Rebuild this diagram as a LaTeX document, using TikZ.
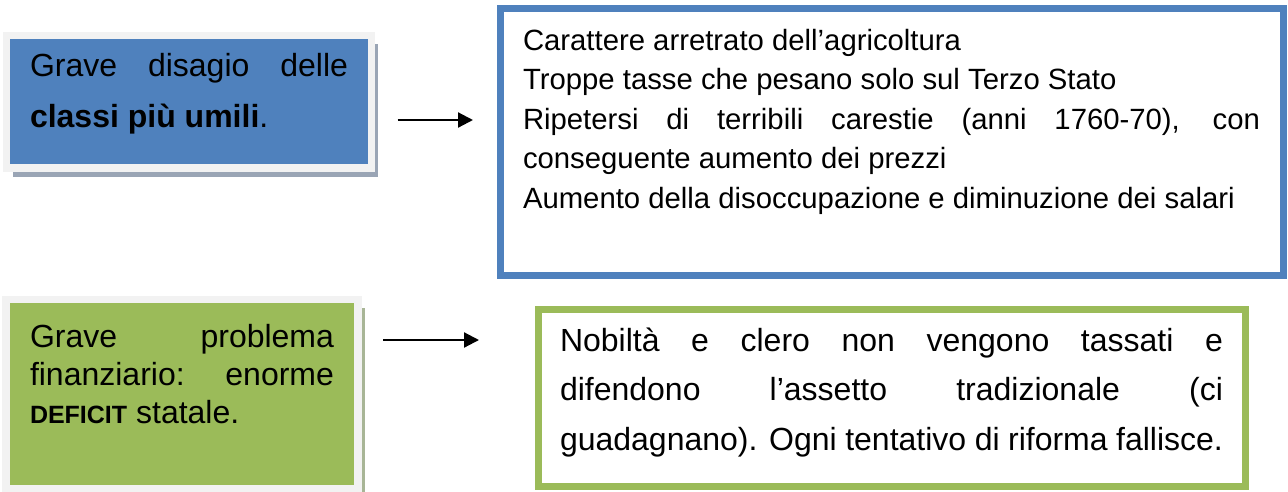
\documentclass[tikz,border=0pt]{standalone}
\usepackage{fontspec}
\setmainfont{Liberation Sans}
\usepackage{tikz}
\usetikzlibrary{arrows.meta, calc, shadows}
\definecolor{causeblue}{RGB}{79,129,189}
\definecolor{causegreen}{RGB}{155,187,89}
\definecolor{framegray}{RGB}{242,242,242}
\definecolor{shadowblue}{RGB}{154,165,181}
\definecolor{shadowgreen}{RGB}{168,181,150}
\tikzset{
    causebox/.style={rectangle, draw=framegray, line width=7.5pt, anchor=north west,
                     outer sep=0pt, inner ysep=0pt, align=justify,
                     font=\fontsize{32}{51}\selectfont},
    effectbox/.style={rectangle, fill=white, line width=7pt, anchor=north west,
                      outer sep=0pt, inner ysep=0pt, align=justify},
    arrow/.style={-{Triangle[length=15pt, width=15pt]}, line width=2.2pt, draw=black},
}
\hyphenpenalty=10000
\exhyphenpenalty=10000

\begin{document}
\begin{tikzpicture}[x=1pt, y=1pt]
    \fill[white] (0,0) rectangle (1288,-491);
    \useasboundingbox (0,0) rectangle (1288,-491);
    % causes
    \node[causebox, fill=causeblue, text width=318pt, inner xsep=23.5pt,
          text height=41pt, text depth=91.5pt,
          drop shadow={shadow xshift=6.5pt, shadow yshift=-8.5pt, fill=shadowblue, opacity=1}]
          (cause1) at (6.5,-35.5) {Grave disagio delle\linebreak \textbf{classi più umili}.};
    \node[causebox, fill=causegreen, text width=304pt, inner xsep=24pt,
          text height=47.5pt, text depth=142pt,
          font=\fontsize{32}{38}\selectfont,
          drop shadow={shadow xshift=7pt, shadow yshift=-8.5pt, fill=shadowgreen, opacity=1}]
          (cause2) at (6,-299.5) {Grave problema\linebreak finanziario: enorme\linebreak
          {\fontsize{25}{38}\selectfont\bfseries DEFICIT} statale.};
    % effects
    \node[effectbox, draw=causeblue, text width=737pt, inner xsep=23pt,
          text height=41.5pt, text depth=225pt,
          font=\fontsize{29.3}{39.5}\selectfont]
          (effect1) at (500,-8.5) {Carattere arretrato dell’agricoltura\\
          Troppe tasse che pesano solo sul Terzo Stato\\
          Ripetersi di terribili carestie (anni 1760-70), con\linebreak
          conseguente aumento dei prezzi\\
          Aumento della disoccupazione e diminuzione dei salari};
    \node[effectbox, draw=causegreen, text width=663pt, inner xsep=22pt,
          text height=42pt, text depth=135pt,
          font=\fontsize{32}{49.5}\selectfont]
          (effect2) at (538,-309) {Nobiltà e clero non vengono tassati e\linebreak
          difendono l’assetto tradizionale (ci\linebreak
          guadagnano). Ogni tentativo di riforma fallisce.};
    \draw[arrow] ($(cause1.east)+(26,-18.25)$) -- ($(effect1.west)+(-27,21.75)$);
    \draw[arrow] ($(cause2.east)+(25,54.25)$) -- ($(effect2.west)+(-59,57.5)$);
\end{tikzpicture}
\end{document}
